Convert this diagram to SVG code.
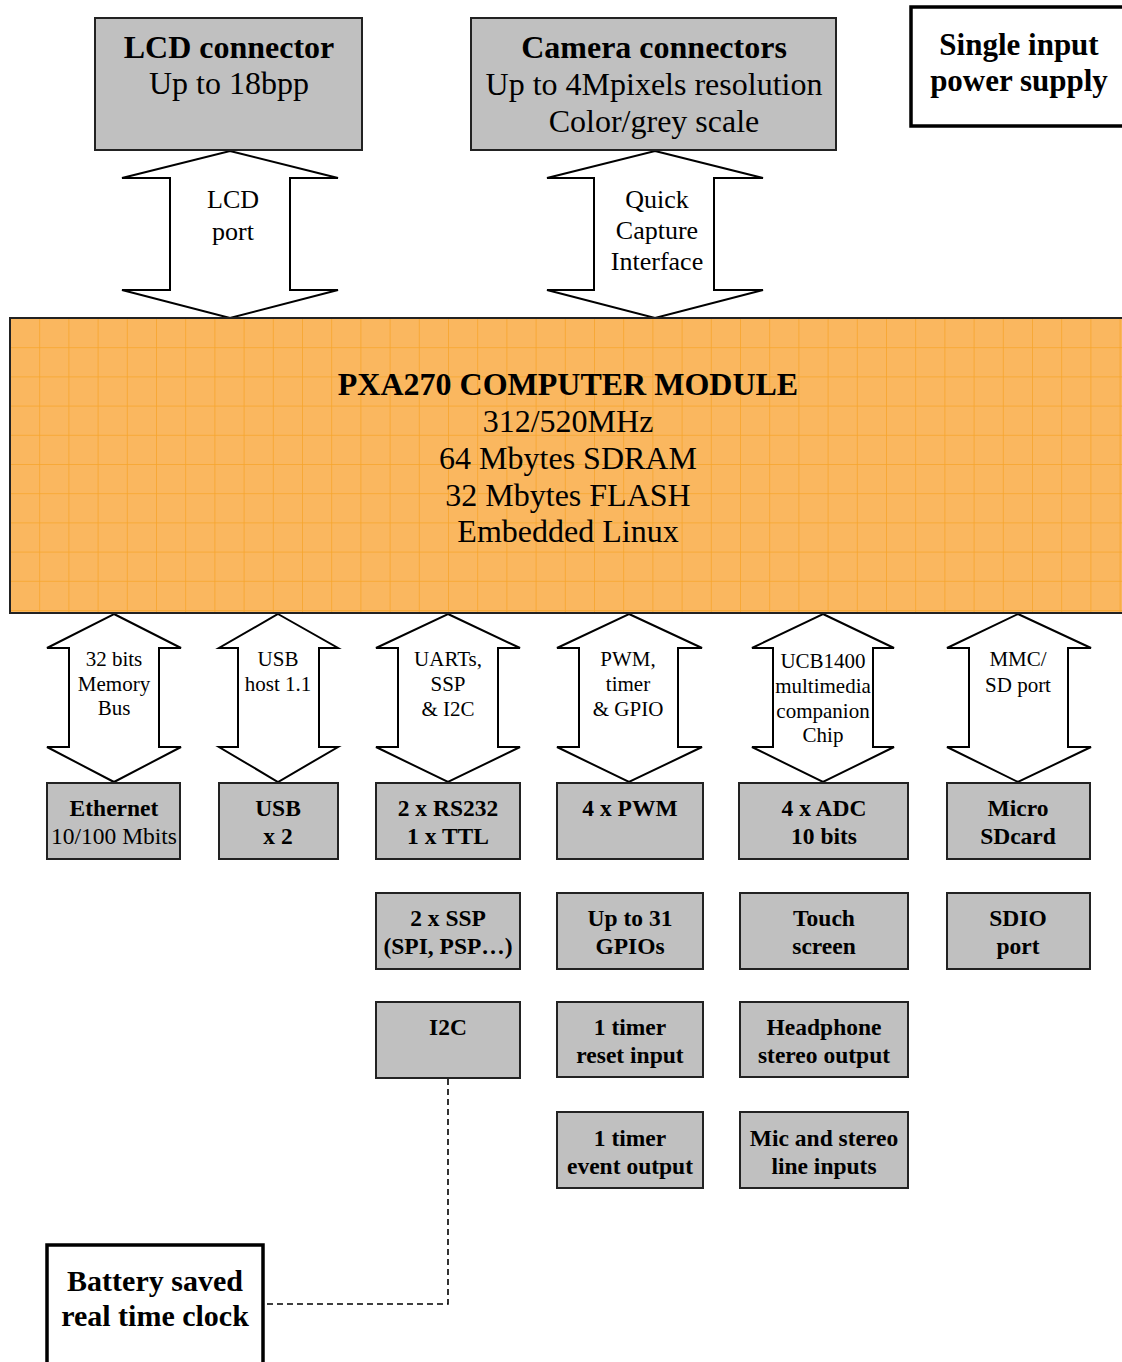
<svg xmlns="http://www.w3.org/2000/svg" width="1122" height="1362" viewBox="0 0 1122 1362">
<style>
.box{fill:#C0C0C0;stroke:#222;stroke-width:2}
.wbox{fill:#fff;stroke:#000;stroke-width:3.5}
.arr{fill:#fff;stroke:#000;stroke-width:2;stroke-linejoin:miter}
text{font-family:"Liberation Serif","Times New Roman",serif;fill:#000;text-anchor:middle}
.t32{font-size:32px}
.b32{font-size:32px;font-weight:bold}
.b30{font-size:30px;font-weight:bold}
.b31{font-size:31px;font-weight:bold}
.t26{font-size:26px}
.t21{font-size:21px}
.b24{font-size:23.5px;font-weight:bold}
.t24{font-size:23.5px}
.dash{fill:none;stroke:#000;stroke-width:1.6;stroke-dasharray:6 4}
</style>
<defs>
<pattern id="grid" patternUnits="userSpaceOnUse" x="10" y="318" width="29.2" height="29.2">
<rect width="29.2" height="29.2" fill="#FAB75F"/>
<path d="M0 0H29.2M0 0V29.2" stroke="#F7A42A" stroke-width="1.5" fill="none"/>
</pattern>
</defs>

<g id="connectors">
<polygon class="arr" points="230,151 338,178 290,178 290,290 338,290 230,318 122,290 170,290 170,178 122,178"/>
<polygon class="arr" points="655,151 763,178 714,178 714,290 763,290 655,318 547,290 594,290 594,178 547,178"/>
<polygon class="arr" points="114,614 181,648 159,648 159,747 181,747 114,782 47,747 69,747 69,648 47,648"/>
<polygon class="arr" points="278,614 338,648 319,648 319,747 338,747 278,782 219,747 238,747 238,648 219,648"/>
<polygon class="arr" points="448,614 520,648 498,648 498,747 520,747 448,782 376,747 398,747 398,648 376,648"/>
<polygon class="arr" points="629,614 702,648 678,648 678,747 702,747 629,782 557,747 579,747 579,648 557,648"/>
<polygon class="arr" points="823,614 894,648 873,648 873,747 894,747 823,782 752,747 773,747 773,648 752,648"/>
<polygon class="arr" points="1018,614 1091,648 1068,648 1068,747 1091,747 1018,782 947,747 969,747 969,648 947,648"/>
<polyline class="dash" points="448,1079 448,1304 264,1304"/>
<text class="t26" x="233" y="208">LCD</text>
<text class="t26" x="233" y="240">port</text>
<text class="t26" x="657" y="208">Quick</text>
<text class="t26" x="657" y="239">Capture</text>
<text class="t26" x="657" y="270">Interface</text>
<text class="t21" x="114" y="666">32 bits</text>
<text class="t21" x="114" y="691">Memory</text>
<text class="t21" x="114" y="715">Bus</text>
<text class="t21" x="278" y="666">USB</text>
<text class="t21" x="278" y="691">host 1.1</text>
<text class="t21" x="448" y="666">UARTs,</text>
<text class="t21" x="448" y="691">SSP</text>
<text class="t21" x="448" y="716">&amp; I2C</text>
<text class="t21" x="628" y="666">PWM,</text>
<text class="t21" x="628" y="691">timer</text>
<text class="t21" x="628" y="716">&amp; GPIO</text>
<text class="t21" x="823" y="668">UCB1400</text>
<text class="t21" x="823" y="693">multimedia</text>
<text class="t21" x="823" y="718">companion</text>
<text class="t21" x="823" y="742">Chip</text>
<text class="t21" x="1018" y="666">MMC/</text>
<text class="t21" x="1018" y="692">SD port</text>
</g>

<g id="lcd">
<rect class="box" x="95" y="18" width="267" height="132"/>
<text class="b32" x="229" y="58">LCD connector</text>
<text class="t32" x="229" y="94">Up to 18bpp</text>
</g>
<g id="camera">
<rect class="box" x="471" y="18" width="365" height="132"/>
<text class="b32" x="654" y="58">Camera connectors</text>
<text class="t32" x="654" y="95">Up to 4Mpixels resolution</text>
<text class="t32" x="654" y="132">Color/grey scale</text>
</g>
<g id="power">
<rect class="wbox" x="911" y="7" width="220" height="119"/>
<text class="b31" x="1019" y="55">Single input</text>
<text class="b31" x="1019" y="91">power supply</text>
</g>
<g id="module">
<rect x="10" y="318" width="1125" height="295" fill="url(#grid)" stroke="#222" stroke-width="2"/>
<text class="b32" x="568" y="395">PXA270 COMPUTER MODULE</text>
<text class="t32" x="568" y="432">312/520MHz</text>
<text class="t32" x="568" y="469">64 Mbytes SDRAM</text>
<text class="t32" x="568" y="506">32 Mbytes FLASH</text>
<text class="t32" x="568" y="542">Embedded Linux</text>
</g>

<g id="ethernet">
<rect class="box" x="47" y="783" width="133" height="76"/>
<text class="b24" x="114" y="816">Ethernet</text>
<text class="t24" x="114" y="844">10/100 Mbits</text>
</g>
<g id="usb">
<rect class="box" x="219" y="783" width="119" height="76"/>
<text class="b24" x="278" y="816">USB</text>
<text class="b24" x="278" y="844">x 2</text>
</g>
<g id="rs232">
<rect class="box" x="376" y="783" width="144" height="76"/>
<text class="b24" x="448" y="816">2 x RS232</text>
<text class="b24" x="448" y="844">1 x TTL</text>
</g>
<g id="pwm">
<rect class="box" x="557" y="783" width="146" height="76"/>
<text class="b24" x="630" y="816">4 x PWM</text>
</g>
<g id="adc">
<rect class="box" x="739" y="783" width="169" height="76"/>
<text class="b24" x="824" y="816">4 x ADC</text>
<text class="b24" x="824" y="844">10 bits</text>
</g>
<g id="microsd">
<rect class="box" x="947" y="783" width="143" height="76"/>
<text class="b24" x="1018" y="816">Micro</text>
<text class="b24" x="1018" y="844">SDcard</text>
</g>
<g id="ssp">
<rect class="box" x="376" y="893" width="144" height="76"/>
<text class="b24" x="448" y="926">2 x SSP</text>
<text class="b24" x="448" y="954">(SPI, PSP…)</text>
</g>
<g id="gpio">
<rect class="box" x="557" y="893" width="146" height="76"/>
<text class="b24" x="630" y="926">Up to 31</text>
<text class="b24" x="630" y="954">GPIOs</text>
</g>
<g id="touch">
<rect class="box" x="740" y="893" width="168" height="76"/>
<text class="b24" x="824" y="926">Touch</text>
<text class="b24" x="824" y="954">screen</text>
</g>
<g id="sdio">
<rect class="box" x="947" y="893" width="143" height="76"/>
<text class="b24" x="1018" y="926">SDIO</text>
<text class="b24" x="1018" y="954">port</text>
</g>
<g id="i2c">
<rect class="box" x="376" y="1002" width="144" height="76"/>
<text class="b24" x="448" y="1035">I2C</text>
</g>
<g id="timer-reset">
<rect class="box" x="557" y="1002" width="146" height="75"/>
<text class="b24" x="630" y="1035">1 timer</text>
<text class="b24" x="630" y="1063">reset input</text>
</g>
<g id="headphone">
<rect class="box" x="740" y="1002" width="168" height="75"/>
<text class="b24" x="824" y="1035">Headphone</text>
<text class="b24" x="824" y="1063">stereo output</text>
</g>
<g id="timer-event">
<rect class="box" x="557" y="1112" width="146" height="76"/>
<text class="b24" x="630" y="1146">1 timer</text>
<text class="b24" x="630" y="1174">event output</text>
</g>
<g id="mic">
<rect class="box" x="740" y="1112" width="168" height="76"/>
<text class="b24" x="824" y="1146">Mic and stereo</text>
<text class="b24" x="824" y="1174">line inputs</text>
</g>
<g id="rtc">
<rect class="wbox" x="47" y="1245" width="216" height="130"/>
<text class="b30" x="155" y="1291">Battery saved</text>
<text class="b30" x="155" y="1326">real time clock</text>
</g>
</svg>
